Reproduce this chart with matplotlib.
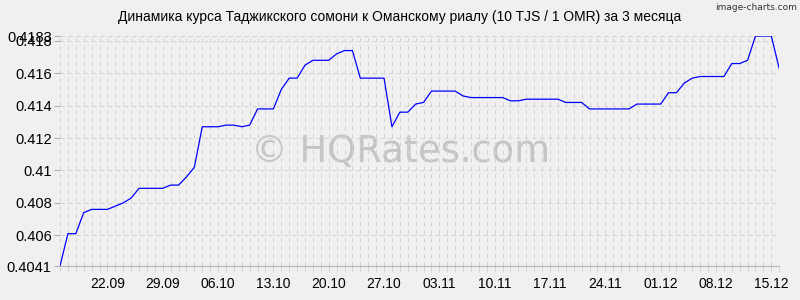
import matplotlib
matplotlib.use("Agg")
import matplotlib.pyplot as plt
import numpy as np

# TJS/OMR rate, one value per day from 16.09 to 16.12
rates = [
    0.4041, 0.4061, 0.4061, 0.4074, 0.4076, 0.4076, 0.4076, 0.4078, 0.4080, 0.4083,
    0.4089, 0.4089, 0.4089, 0.4089, 0.4091, 0.4091, 0.4096, 0.4102, 0.4127, 0.4127,
    0.4127, 0.4128, 0.4128, 0.4127, 0.4128, 0.4138, 0.4138, 0.4138, 0.4150, 0.4157,
    0.4157, 0.4165, 0.4168, 0.4168, 0.4168, 0.4172, 0.4174, 0.4174, 0.4157, 0.4157,
    0.4157, 0.4157, 0.4127, 0.4136, 0.4136, 0.4141, 0.4142, 0.4149, 0.4149, 0.4149,
    0.4149, 0.4146, 0.4145, 0.4145, 0.4145, 0.4145, 0.4145, 0.4143, 0.4143, 0.4144,
    0.4144, 0.4144, 0.4144, 0.4144, 0.4142, 0.4142, 0.4142, 0.4138, 0.4138, 0.4138,
    0.4138, 0.4138, 0.4138, 0.4141, 0.4141, 0.4141, 0.4141, 0.4148, 0.4148, 0.4154,
    0.4157, 0.4158, 0.4158, 0.4158, 0.4158, 0.4166, 0.4166, 0.4168, 0.4183, 0.4183,
    0.4183, 0.4163,
]
date_labels = ['22.09', '29.09', '06.10', '13.10', '20.10', '27.10', '03.11',
               '10.11', '17.11', '24.11', '01.12', '08.12', '15.12']
y_ticks = [0.4041, 0.406, 0.408, 0.41, 0.412, 0.414, 0.416, 0.418, 0.4183]
y_labels = ['0.4041', '0.406', '0.408', '0.41', '0.412', '0.414', '0.416', '0.418', '0.4183']

plt.rcParams['font.family'] = ['Liberation Sans', 'DejaVu Sans']
bg = '#f0f0f0'
gridc = '#d2d2d2'

fig = plt.figure(figsize=(8, 3), dpi=100, facecolor=bg)
ax = fig.add_axes([0.075, 0.113, 0.899, 0.767])
ax.set_facecolor(bg)

x = np.arange(len(rates))
ax.plot(x, rates, color='#0000ff', lw=0.9, zorder=3)

ax.set_xlim(0, len(rates) - 1)
ax.set_ylim(y_ticks[0], y_ticks[-1])

# daily vertical grid, dashed
ax.set_xticks(x, minor=True)
ax.set_xticks(6 + 7 * np.arange(len(date_labels)))
ax.set_xticklabels(date_labels)
ax.grid(axis='x', which='both', color=gridc, lw=0.72, ls=(0, (4, 4)))
ax.set_yticks(y_ticks)
ax.set_yticklabels(y_labels)
ax.grid(axis='y', which='major', color=gridc, lw=0.72, ls=(0, (4, 4)))

ax.tick_params(axis='x', which='both', length=4, color=gridc, labelsize=10, pad=4)
ax.tick_params(axis='y', length=4, color='#b0b0b0', labelsize=10.5, pad=2)
for s in ['top', 'right', 'left']:
    ax.spines[s].set_visible(False)
ax.spines['bottom'].set_color('#b4b4b4')
ax.spines['bottom'].set_linewidth(0.8)

fig.text(0.5, 0.945, 'Динамика курса Таджикского сомони к Оманскому риалу (10 TJS / 1 OMR) за 3 месяца',
         ha='center', va='center', fontsize=10, color='black')
fig.text(0.996, 0.975, 'image-charts.com', ha='right', va='center', fontsize=6.5,
         color='#333333', family='DejaVu Sans')
ax.text(0.473, 0.5, '© HQRates.com', transform=ax.transAxes, ha='center', va='center',
        fontsize=26.5, color='#c4c4c4', family='DejaVu Sans', zorder=1)

fig.savefig('out.png', dpi=100, facecolor=bg)
